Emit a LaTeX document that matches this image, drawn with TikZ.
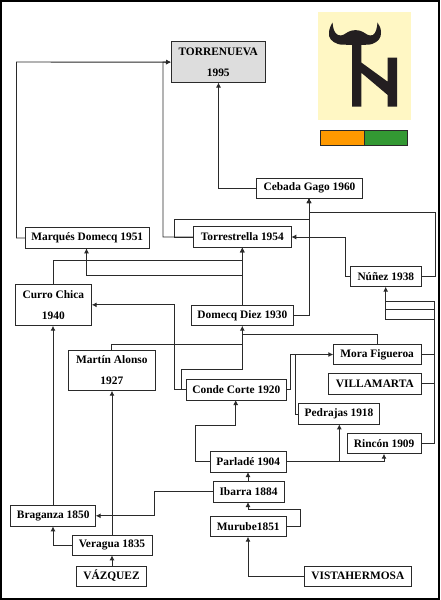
\documentclass[tikz,border=0pt]{standalone}
\usepackage{fontspec}
\setmainfont{Liberation Serif}
\usetikzlibrary{arrows.meta}
\definecolor{ln}{HTML}{2A2A2A}
\newcommand\bx[7][white]{%
  \pgfmathsetmacro\bw{#5-#3}\pgfmathsetmacro\bh{#6-#4}%
  \pgfmathsetmacro\bcx{(#3+#5)/2}\pgfmathsetmacro\bcy{(#4+#6)/2}%
  \node[bx,fill=#1,minimum width=\bw pt,minimum height=\bh pt] (#2) at (\bcx,\bcy) {#7};}
\tikzset{
  bx/.style={draw=ln,line width=0.95pt,inner sep=0pt,outer sep=0pt,align=center,
    font=\fontsize{11.4pt}{21pt}\selectfont\bfseries},
  cn/.style={draw=ln,line width=0.95pt},
  arr/.style={cn,-{Latex[length=5pt,width=5pt]}},
}
\begin{document}
\begin{tikzpicture}[x=1pt,y=-1pt]
\useasboundingbox (0,0) rectangle (440,600);
\fill[white] (0,0) rectangle (440,600);
% logo
\fill[color={rgb,255:red,255;green,247;blue,196}] (318,12) rectangle (411,119.5);
\fill[color={rgb,255:red,35;green,30;blue,32}] (352,106.5) -- (352,45) .. controls (345,44.5) and (341,45) .. (338,44) .. controls (332,42) and (328,38) .. (329,32)
  .. controls (329.5,28) and (331,25) .. (332.5,22.5) .. controls (333,28) and (334,33) .. (338,35) .. controls (342,36.5) and (345,34) .. (348,32)
  .. controls (352,29.5) and (359,29.5) .. (363,32) .. controls (366,34) and (369,36.5) .. (373,35) .. controls (376,33) and (377,28) .. (377.5,22.5)
  .. controls (379,25) and (381,28) .. (381,32) .. controls (381.5,38) and (378,42) .. (372,44) .. controls (369,45) and (365,44.5) .. (361.3,45)
  -- (361.3,62.5) -- (387.7,81.7) -- (387.7,57.7) -- (397,57.7) -- (397,106.5) -- (387.7,106.5) -- (387.7,95) -- (361.3,72.7) -- (361.3,106.5) -- cycle;
% flag
\draw[ln,line width=1pt,fill={rgb,255:red,255;green,153;blue,0}] (320.5,130) rectangle (364,145);
\draw[ln,line width=1pt,fill={rgb,255:red,51;green,153;blue,51}] (364,130) rectangle (407.5,145);
% nodes
\bx[gray!27]{torre}{171}{41.7}{265.5}{82.5}{TORRENUEVA\\1995}
\bx{cebada}{256.7}{178}{362.3}{198}{Cebada Gago 1960}
\bx{marques}{25}{227.7}{149.5}{248.3}{Marqués Domecq 1951}
\bx{torres}{193.3}{226.7}{291.3}{247.3}{Torrestrella 1954}
\bx{curro}{15}{284}{91.7}{325.7}{Curro Chica\\1940}
\bx{domecq}{191}{305}{293.7}{325.7}{Domecq Diez 1930}
\bx{nunez}{350.7}{266}{421}{286.7}{Núñez 1938}
\bx{martin}{68.7}{350}{155}{390.7}{Martín Alonso\\1927}
\bx{mora}{333.3}{344.3}{421}{364.7}{Mora Figueroa}
\bx{villa}{328.7}{373.3}{421}{394}{VILLAMARTA}
\bx{conde}{186}{379.3}{286.7}{400}{Conde Corte 1920}
\bx{pedrajas}{298.7}{403.7}{379.3}{424.3}{Pedrajas 1918}
\bx{rincon}{347.3}{433}{421}{453.7}{Rincón 1909}
\bx{parlade}{210.3}{451.7}{286.3}{472}{Parladé 1904}
\bx{ibarra}{213}{481.7}{284}{502}{Ibarra 1884}
\bx{murube}{210.3}{516.3}{286.3}{536.7}{Murube1851}
\bx{braganza}{10.7}{505.3}{95.7}{526.3}{Braganza 1850}
\bx{veragua}{72}{535}{152}{555.3}{Veragua 1835}
\bx{vazquez}{76.7}{566}{146.3}{586}{VÁZQUEZ}
\bx{vista}{304.3}{566}{411.3}{586}{VISTAHERMOSA}
% connectors
\draw[arr] (marques.west) -- (16.5,0 |- marques.west) -- (16.5,62) -- (torre.west);
\draw[arr] (torres.west) -- (163,0 |- torres.west) -- (163,62) -- (torre.west);
\draw[arr] (torres.west) -- (174,0 |- torres.west) -- (174,219.5) -- (309,219.5) -- (309,0 |- cebada.south);
\draw[arr] (cebada.west) -- (218.5,0 |- cebada.west) -- (218.5,0 |- torre.south);
\draw[arr] (domecq.east) -- (309,0 |- domecq.east) -- (309,0 |- cebada.south);
\draw[arr] (nunez.east) -- (435,0 |- nunez.east) -- (435,212) -- (309,212) -- (309,0 |- cebada.south);
\draw[arr] (nunez.west) -- (345,0 |- nunez.west) -- (345,0 |- torres.east) -- (torres.east);
\draw[arr] (domecq.north -| 242.3,0) -- (242.3,0 |- torres.south);
\draw[arr] (curro.north -| 53,0) -- (53,260.3) -- (242.3,260.3) -- (242.3,0 |- torres.south);
\draw[arr] (242.3,275) -- (86.5,275) -- (86.5,0 |- marques.south);
\draw[arr] (conde.west) -- (174,0 |- conde.west) -- (174,0 |- curro.east) -- (curro.east);
\draw[arr] (conde.west) -- (181,0 |- conde.west) -- (181,369.5) -- (242.3,369.5) -- (242.3,0 |- domecq.south);
\draw[cn] (martin.north -| 111.7,0) -- (111.7,344.3) -- (242.3,344.3);
\draw[cn] (mora.north -| 377.3,0) -- (377.3,334.7) -- (242.3,334.7);
\draw[arr] (conde.east) -- (290.7,0 |- conde.east) -- (290.7,354.5) -- (mora.west);
\draw[cn] (pedrajas.west) -- (295.3,0 |- pedrajas.west) -- (295.3,354.5);
\draw[cn] (mora.east) -- (434.5,0 |- mora.east);
\draw[cn] (villa.east) -- (434.5,0 |- villa.east);
\draw[cn] (rincon.east) -- (434.5,0 |- rincon.east) -- (434.5,301) -- (385.7,301);
\draw[cn] (434.5,309.3) -- (385.7,309.3);
\draw[arr] (434.5,319) -- (385.7,319) -- (385.7,0 |- nunez.south);
\draw[arr] (parlade.east) -- (384,0 |- parlade.east) -- (384,0 |- rincon.south);
\draw[arr] (339.3,0 |- parlade.east) -- (339.3,0 |- pedrajas.south);
\draw[arr] (parlade.west) -- (195,0 |- parlade.west) -- (195,425) -- (235.7,425) -- (235.7,0 |- conde.south);
\draw[arr] (ibarra.north -| 248,0) -- (248,0 |- parlade.south);
\draw[arr] (ibarra.west) -- (154.5,0 |- ibarra.west) -- (154.5,0 |- braganza.east) -- (braganza.east);
\draw[arr] (murube.east) -- (300.3,0 |- murube.east) -- (300.3,509) -- (248,509) -- (248,0 |- ibarra.south);
\draw[arr] (vista.west) -- (248,0 |- vista.west) -- (248,0 |- murube.south);
\draw[arr] (veragua.west) -- (53,0 |- veragua.west) -- (53,0 |- braganza.south);
\draw[arr] (vazquez.north -| 112,0) -- (112,0 |- veragua.south);
\draw[arr] (veragua.north -| 112,0) -- (112,0 |- martin.south);
\draw[arr] (braganza.north -| 53,0) -- (53,0 |- curro.south);
% frame
\draw[black,line width=2.4pt] (1.2,1.2) rectangle (438.8,598.8);
\end{tikzpicture}
\end{document}
